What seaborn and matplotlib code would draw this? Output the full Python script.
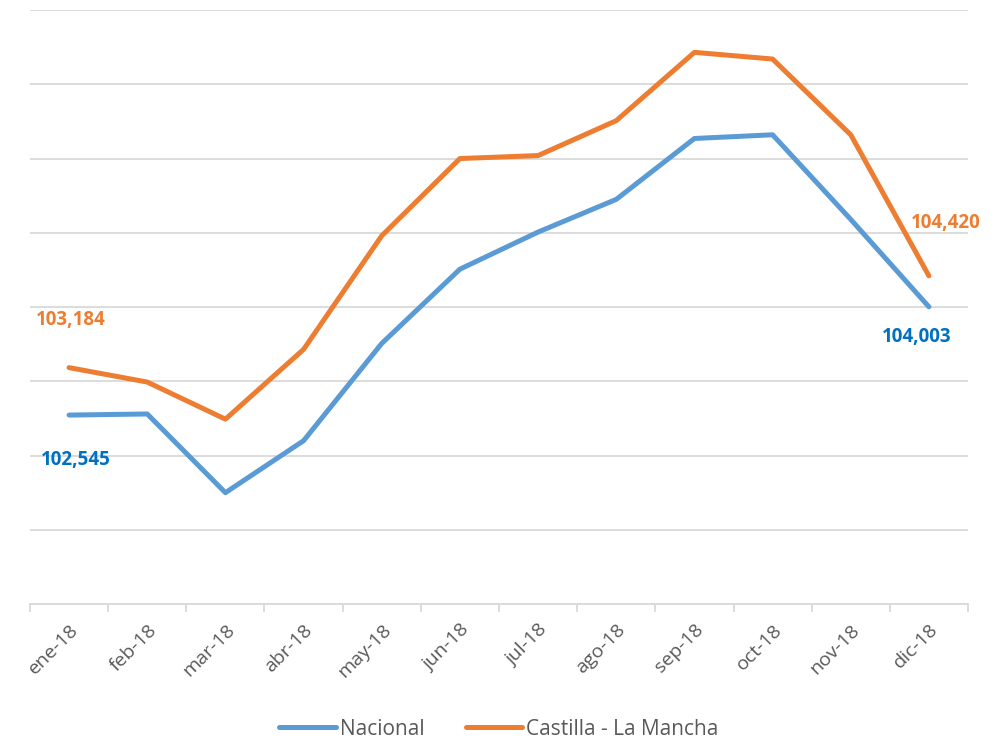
import matplotlib
matplotlib.use("Agg")
import matplotlib.pyplot as plt
import seaborn as sns
import pandas as pd

meses = ["ene-18", "feb-18", "mar-18", "abr-18", "may-18", "jun-18",
         "jul-18", "ago-18", "sep-18", "oct-18", "nov-18", "dic-18"]
nacional = [102.545, 102.56, 101.50, 102.20, 103.51, 104.51,
            105.01, 105.45, 106.27, 106.32, 105.18, 104.003]
castilla = [103.184, 102.99, 102.49, 103.43, 104.96, 106.00,
            106.04, 106.51, 107.43, 107.34, 106.32, 104.420]
series = ["Nacional", "Castilla - La Mancha"]
colores = ["#5B9BD5", "#ED7D31"]
colores_etiqueta = ["#0070C0", "#ED7D31"]

df = pd.DataFrame({
    "mes": meses * 2,
    "x": list(range(len(meses))) * 2,
    "valor": nacional + castilla,
    "serie": [series[0]] * len(meses) + [series[1]] * len(meses),
})

sns.set_style("white")
plt.rcParams["font.family"] = ["Open Sans", "DejaVu Sans"]

fig = plt.figure(figsize=(10, 7.43), dpi=100)
ax = fig.add_axes([0.03, 0.187, 0.938, 0.7995])

sns.lineplot(data=df, x="x", y="valor", hue="serie", hue_order=series,
             palette=colores, linewidth=3.6, ax=ax, legend=True,
             solid_capstyle="round", solid_joinstyle="round")

ax.set_xlim(-0.5, len(meses) - 0.5)
ax.set_ylim(100, 108)
ax.set_yticks(range(100, 109))
ax.set_yticklabels([])
ax.tick_params(axis="y", length=0)
ax.grid(axis="y", color="#D9D9D9", linewidth=1.3)
ax.set_axisbelow(True)
for s in ["top", "right", "left"]:
    ax.spines[s].set_visible(False)
ax.spines["bottom"].set_color("#D9D9D9")
ax.spines["bottom"].set_linewidth(1.3)

ax.set_xticks(range(len(meses)))
ax.set_xticklabels(meses, rotation=45, ha="right", rotation_mode="anchor",
                   color="#595959", fontsize=14)
ax.tick_params(axis="x", which="major", length=0, pad=12)
ax.set_xticks([i - 0.5 for i in range(len(meses) + 1)], minor=True)
ax.tick_params(axis="x", which="minor", bottom=True, length=6,
               color="#D9D9D9", width=1.3)
ax.set_xlabel("")
ax.set_ylabel("")

# etiquetas de datos
etiquetas = [
    (0, castilla[0], (1, 34), colores_etiqueta[1]),
    (0, nacional[0], (5, -32), colores_etiqueta[0]),
    (11, castilla[-1], (12, 38), colores_etiqueta[1]),
    (11, nacional[-1], (-9, -22), colores_etiqueta[0]),
]
for xi, v, off, c in etiquetas:
    ax.annotate(f"{v:.3f}".replace(".", ","), (xi, v), xytext=off,
                textcoords="offset points", ha="center", va="center",
                color=c, fontsize=13.5, fontweight="bold")

leg = ax.legend(loc="lower center", bbox_to_anchor=(0.5, -0.26), ncol=2,
                frameon=False, fontsize=15, handlelength=2.7,
                columnspacing=2.0, handletextpad=0.2)
for t in leg.get_texts():
    t.set_color("#595959")

fig.savefig("out.png", dpi=100)
